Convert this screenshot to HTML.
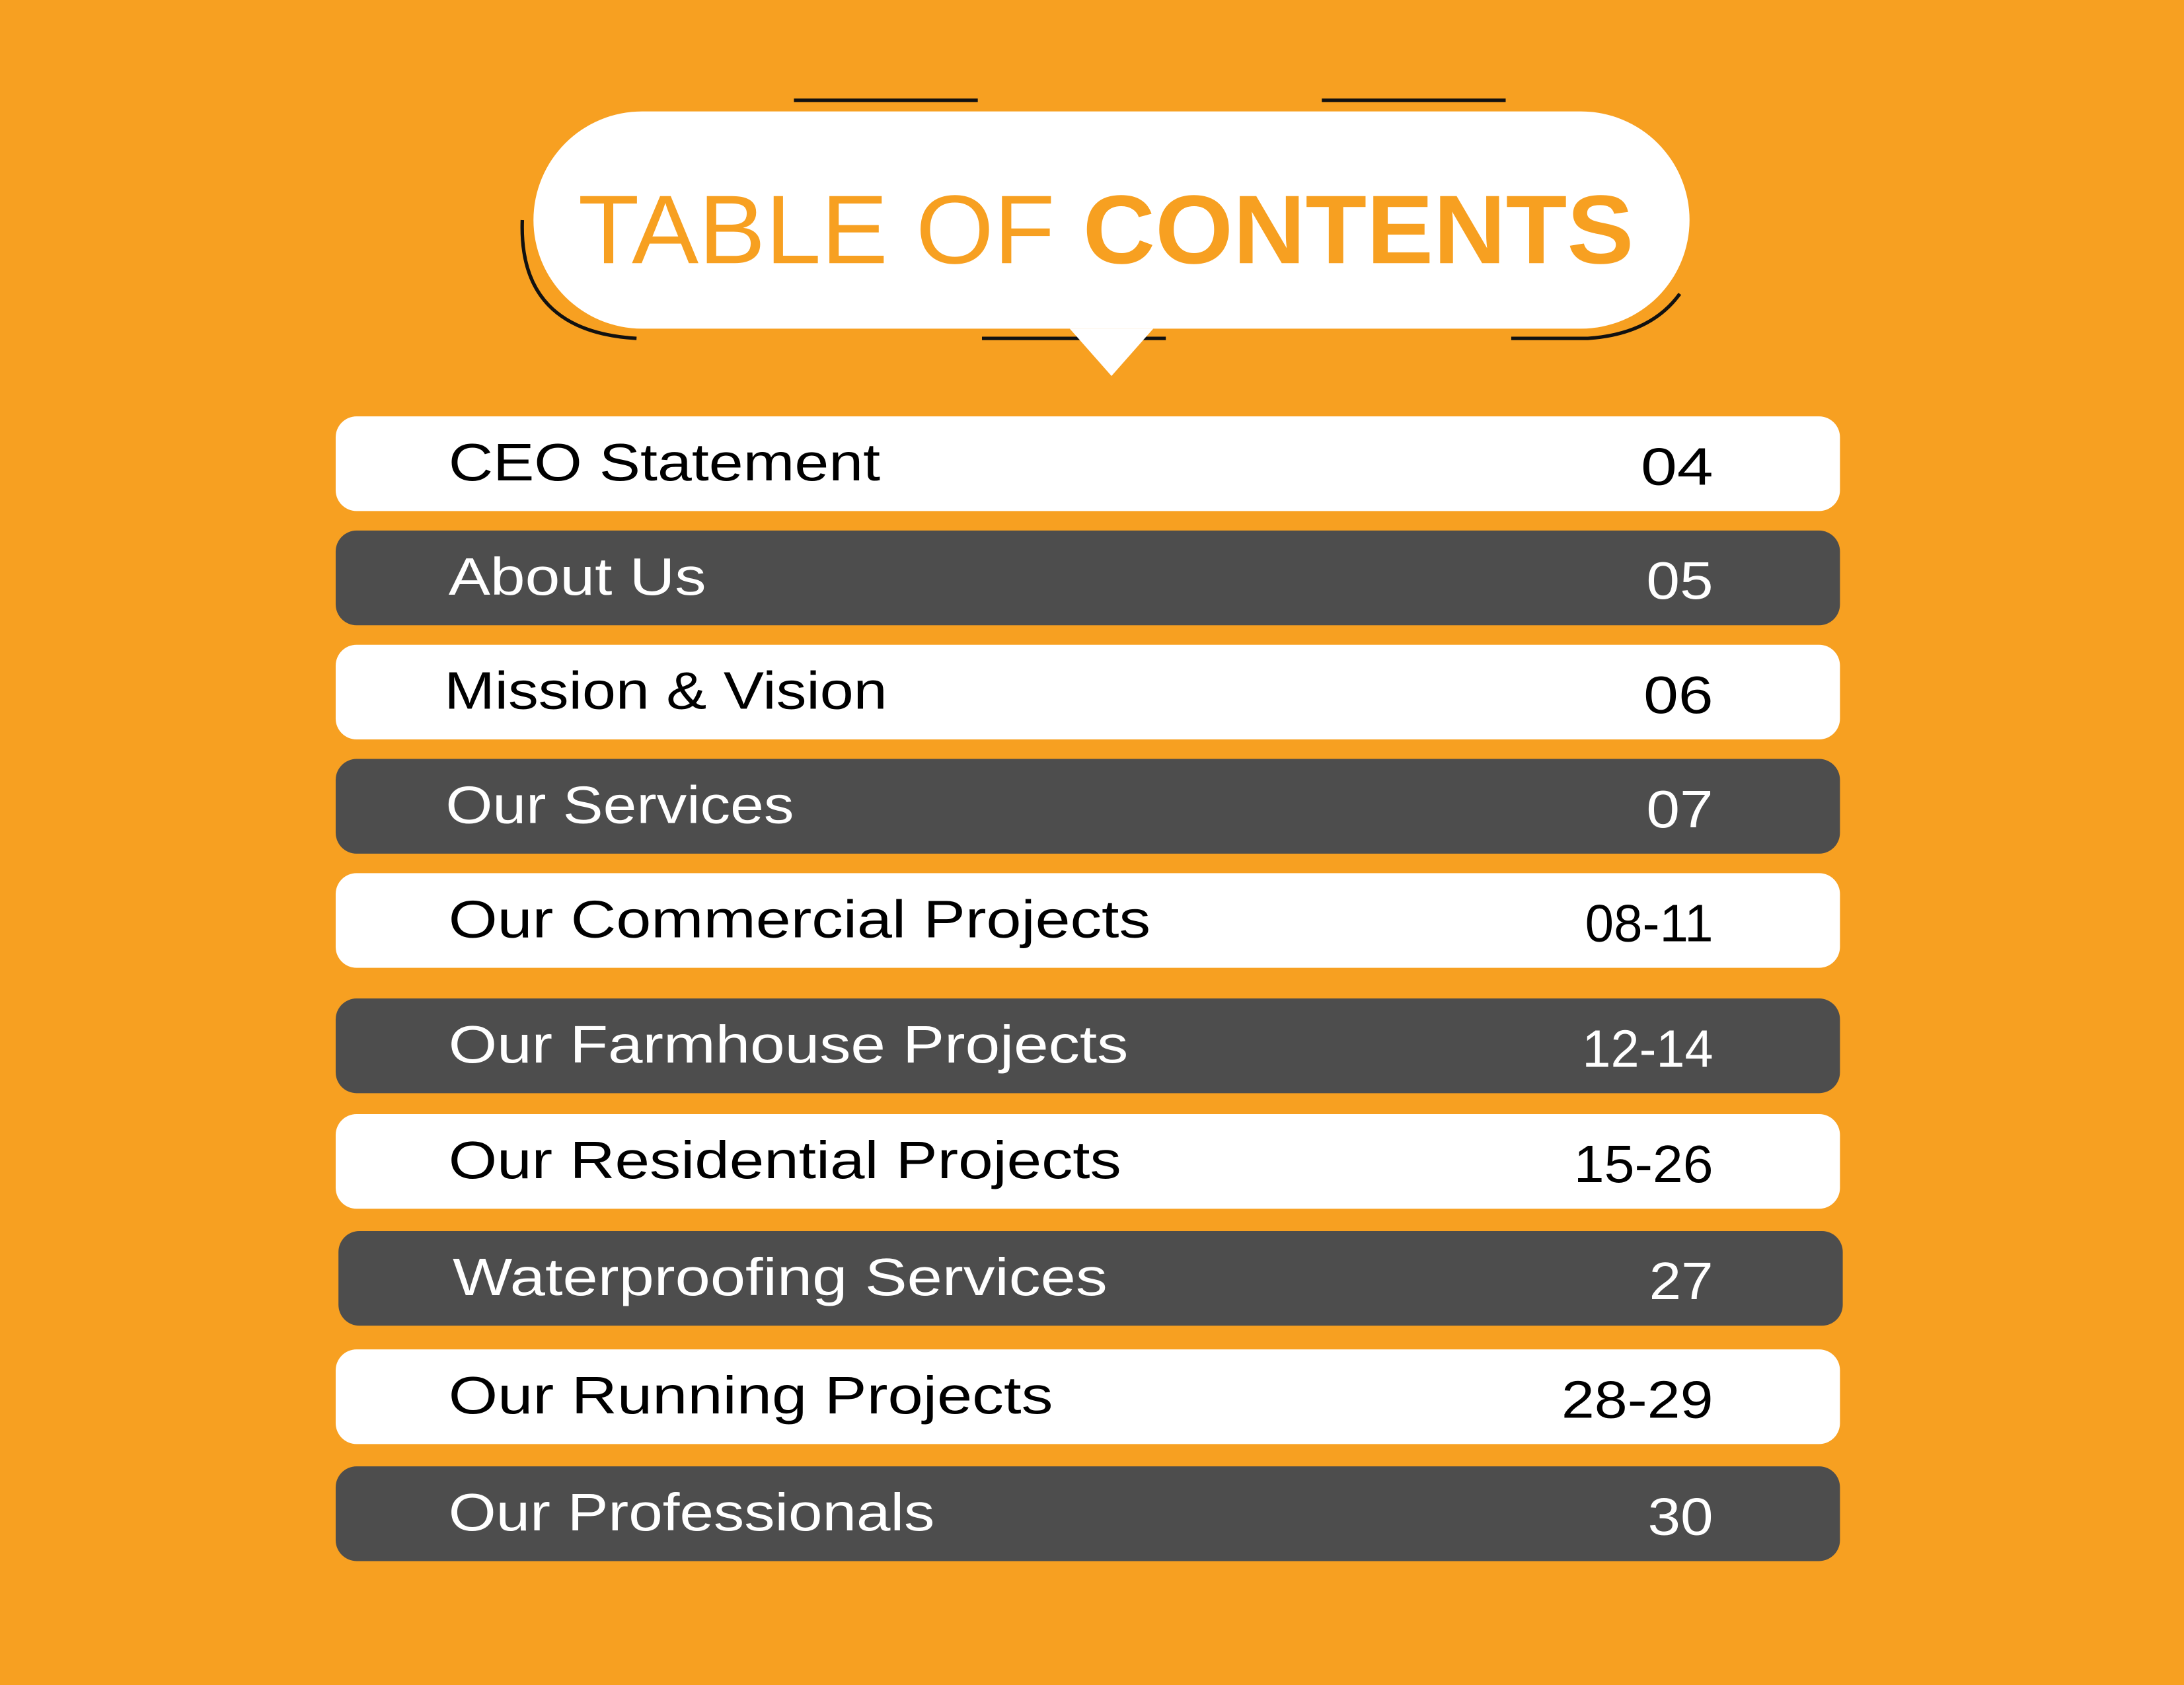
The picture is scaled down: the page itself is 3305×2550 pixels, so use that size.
<!DOCTYPE html>
<html><head><meta charset="utf-8"><style>
html,body{margin:0;padding:0;background:#F7A021;}
svg{display:block;}
</style></head><body>
<svg id="s" width="3305" height="2550" viewBox="0 0 1568 1210" preserveAspectRatio="none" xmlns="http://www.w3.org/2000/svg" font-family="Liberation Sans, sans-serif">
<rect width="1568" height="1210" fill="#F7A021"/>
<g stroke="#111" stroke-width="2.5" fill="none">
<line x1="570" y1="72" x2="702" y2="72"/>
<line x1="949" y1="72" x2="1081" y2="72"/>
<line x1="705" y1="243" x2="837" y2="243"/>
<path d="M1085 243 L1140 243 Q1185 240 1206 211"/>
<path d="M375 158 Q372 238 457 243"/>
</g>
<rect x="383" y="80" width="830" height="156" rx="78" fill="#fff"/>
<polygon points="768,236 828,236 798,270" fill="#fff"/>
<text x="415" y="189" font-size="70" fill="#F7A021" textLength="758" lengthAdjust="spacingAndGlyphs"><tspan>TABLE OF </tspan><tspan font-weight="bold">CONTENTS</tspan></text>
<g id="rows"></g>
</svg>
<script>
const labels=["CEO Statement","About Us","Mission & Vision","Our Services","Our Commercial Projects","Our Farmhouse Projects","Our Residential Projects","Waterproofing Services","Our Running Projects","Our Professionals"];
const pages=["04","05","06","07","08-11","12-14","15-26","27","28-29","30"];
const rowTops=[299,381,463,545,627,717,800,884,969,1053];
const labelEnds=[632,507,637,570,826,810,805,795,756,671];
const pageStarts=[1178,1182,1180,1182,1138,1136,1130,1184,1121,1183];
const NS="http://www.w3.org/2000/svg";
const g=document.getElementById('rows');
labels.forEach((lab,i)=>{
  const dark=i%2===1;
  const y=rowTops[i];
  const row=document.createElementNS(NS,'g');
  
  
  const r=document.createElementNS(NS,'rect');
  
  
  r.setAttribute('x',i===7?243:241);r.setAttribute('y',y);r.setAttribute('width',1080);r.setAttribute('height',68);r.setAttribute('rx',15);
  r.setAttribute('fill',dark?'#4D4D4D':'#fff');
  row.appendChild(r);
  const lx=i===2?319:(i===3?320:(i===7?325:322));
  const t=document.createElementNS(NS,'text');
  
  
  t.setAttribute('x',lx);t.setAttribute('y',y+46);t.setAttribute('font-size',38);
  t.setAttribute('fill',dark?'#fff':'#000');
  t.setAttribute('textLength',labelEnds[i]-lx);t.setAttribute('lengthAdjust','spacingAndGlyphs');
  t.textContent=lab;row.appendChild(t);
  const p=document.createElementNS(NS,'text');
  
  
  p.setAttribute('x',pageStarts[i]);p.setAttribute('y',y+49);p.setAttribute('font-size',38);
  p.setAttribute('fill',dark?'#fff':'#000');
  p.setAttribute('textLength',1230-pageStarts[i]);p.setAttribute('lengthAdjust','spacingAndGlyphs');
  p.textContent=pages[i];row.appendChild(p);
  g.appendChild(row);
});
</script>
</body></html>
